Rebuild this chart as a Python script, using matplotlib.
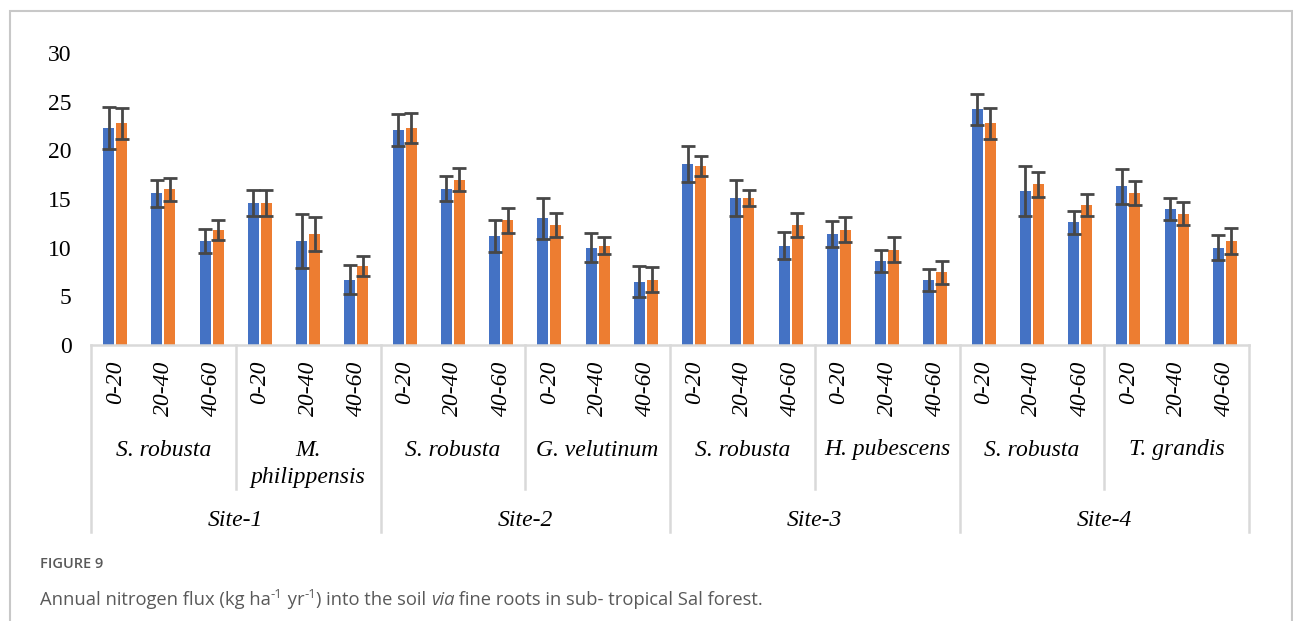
import numpy as np
import matplotlib
matplotlib.use("Agg")
import matplotlib.pyplot as plt
from matplotlib.transforms import blended_transform_factory
from matplotlib.lines import Line2D
from matplotlib.patches import Rectangle

# ---------------- data ----------------
depths = ["0-20", "20-40", "40-60"] * 8
species = ["S. robusta", "M.\nphilippensis", "S. robusta", "G. velutinum",
           "S. robusta", "H. pubescens", "S. robusta", "T. grandis"]
sites = ["Site-1", "Site-2", "Site-3", "Site-4"]

blue = [22.3, 15.6, 10.7, 14.6, 10.7, 6.7,
        22.1, 16.05, 11.2, 13.0, 10.0, 6.5,
        18.6, 15.1, 10.2, 11.4, 8.6, 6.7,
        24.2, 15.8, 12.6, 16.3, 13.95, 10.0]
blue_err = [2.2, 1.4, 1.25, 1.3, 2.8, 1.5,
            1.65, 1.3, 1.6, 2.1, 1.5, 1.6,
            1.85, 1.85, 1.4, 1.3, 1.15, 1.15,
            1.55, 2.55, 1.15, 1.8, 1.15, 1.3]
orange = [22.8, 16.0, 11.8, 14.6, 11.4, 8.1,
          22.3, 17.0, 12.8, 12.3, 10.2, 6.7,
          18.4, 15.1, 12.3, 11.85, 9.8, 7.45,
          22.8, 16.5, 14.4, 15.6, 13.5, 10.7]
orange_err = [1.6, 1.2, 1.05, 1.3, 1.75, 1.05,
              1.5, 1.2, 1.3, 1.25, 0.9, 1.3,
              1.05, 0.85, 1.25, 1.3, 1.3, 1.15,
              1.6, 1.25, 1.15, 1.2, 1.15, 1.3]
yticks = [0, 5, 10, 15, 20, 25, 30]

SERIF = "Liberation Serif"

# ---------------- figure ----------------
W, H = 1293, 621
fig = plt.figure(figsize=(W / 100, H / 100), dpi=100)
fig.patch.set_facecolor("white")

def fx(px):
    return px / W

def fy(py):
    return 1 - py / H

ax_l, ax_r, ax_b, ax_t = 91, 1249, 345, 53
ax = fig.add_axes([fx(ax_l), fy(ax_b), fx(ax_r - ax_l), (ax_b - ax_t) / H])

BLUE = "#4472C4"
ORANGE = "#ED7D31"
GRID = "#D9D9D9"
ERR = "#474747"

x = np.arange(len(blue))
bw = 0.23
off = 0.135
ax.bar(x - off, blue, width=bw, color=BLUE, zorder=2)
ax.bar(x + off, orange, width=bw, color=ORANGE, zorder=2)
ekw = dict(fmt="none", ecolor=ERR, elinewidth=2.0, capsize=4.7, capthick=2.0, zorder=3)
ax.errorbar(x - off, blue, yerr=blue_err, **ekw)
ax.errorbar(x + off, orange, yerr=orange_err, **ekw)

ax.set_xlim(-0.5, len(blue) - 0.5)
ax.set_ylim(0, 30)
ax.set_yticks(yticks)
ax.set_yticklabels([str(t) for t in yticks], family=SERIF, fontsize=17)
ax.tick_params(axis="y", length=0, pad=14)
ax.set_xticks([])
for s in ["top", "right", "left"]:
    ax.spines[s].set_visible(False)
ax.spines["bottom"].set_color(GRID)
ax.spines["bottom"].set_linewidth(1.8)
ax.set_autoscale_on(False)

trans = blended_transform_factory(ax.transData, fig.transFigure)

def itext(xv, yv, s, **kw):
    return ax.text(xv, yv, s, transform=trans, clip_on=False, color="black",
                   family=SERIF, style="italic", fontsize=17, **kw)

# depth labels
for i, d in enumerate(depths):
    itext(i, fy(361), d, rotation=90, ha="center", va="top")

# species labels
for j, sp in enumerate(species):
    cx = 3 * j + 1
    for k, line in enumerate(sp.split("\n")):
        itext(cx, fy(450 + 27 * k), line, ha="center", va="center")

# site labels
for j, st in enumerate(sites):
    cx = 6 * j + 2.5
    itext(cx, fy(520), st, ha="center", va="center")

# separators
for b in np.arange(-0.5, len(blue), 3):
    is_site = (round(b + 0.5) % 6 == 0)
    bottom = 532 if is_site else 489
    ax.add_line(Line2D([b, b], [fy(ax_b), fy(bottom)], transform=trans, color=GRID,
                       lw=1.8, clip_on=False))

# outer border
fig.patches.append(Rectangle((fx(9.5), -0.05), fx(1291.5 - 9.5), fy(11) + 0.05,
                             transform=fig.transFigure, fill=False,
                             edgecolor="#C8C8C8", linewidth=1.5))

# caption
CAPC = "#595959"
fig.text(fx(40), fy(564), "FIGURE 9", family="Open Sans", weight="semibold",
         fontsize=10.5, color=CAPC, ha="left", va="center")

renderer = fig.canvas.get_renderer()
pieces = [
    ("Annual nitrogen flux (kg ha", "normal", False),
    ("-1", "normal", True),
    (" yr", "normal", False),
    ("-1", "normal", True),
    (") into the soil ", "normal", False),
    ("via", "italic", False),
    (" fine roots in sub- tropical Sal forest.", "normal", False),
]
cur = 40.0
base_py = 605
for txt, style, sup in pieces:
    size = 9.5 if sup else 13.2
    py = base_py - 6.5 if sup else base_py
    t = fig.text(fx(cur), fy(py), txt, family="Open Sans", style=style,
                 fontsize=size, color=CAPC, ha="left", va="baseline")
    bb = t.get_window_extent(renderer=renderer)
    cur += bb.width

fig.savefig("out.png", dpi=100, facecolor="white")
